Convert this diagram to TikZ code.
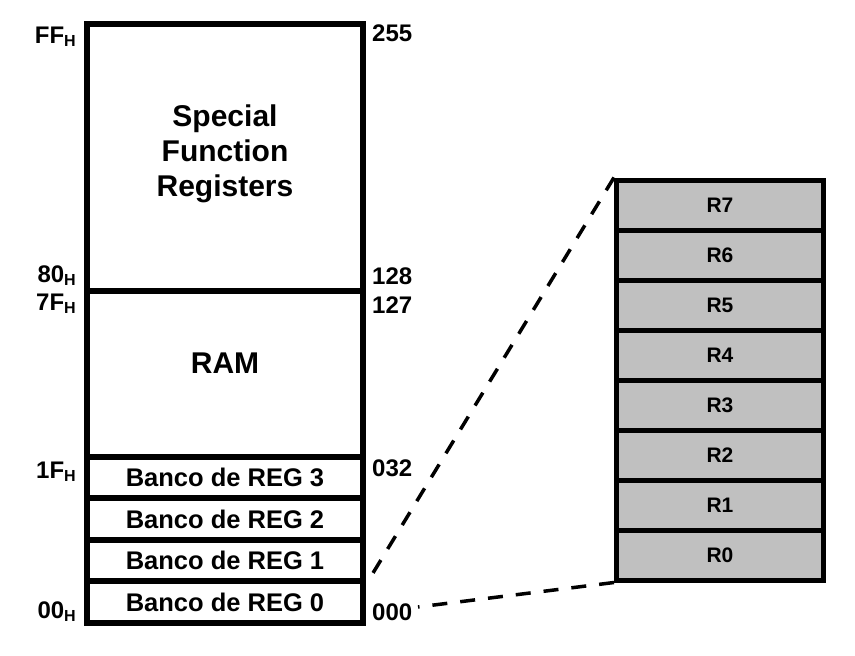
\documentclass[tikz,border=0pt]{standalone}
\usepackage{fontspec}
\setmainfont{Liberation Sans}
\definecolor{regGrey}{HTML}{C0C0C0}
\usetikzlibrary{positioning}
\newcommand{\hexsub}{\raisebox{-3.5pt}{\fontsize{16}{16}\selectfont H}}

\begin{document}
\begin{tikzpicture}[x=1pt, y=-1pt,
  region/.style={draw, line width=6pt, minimum width=276pt, inner sep=0pt,
    font=\fontsize{25.5}{28}\selectfont\bfseries},
  bigtext/.style={align=center, inner sep=0pt,
    font=\fontsize{30}{35}\selectfont\bfseries},
  reg/.style={draw, fill=regGrey, line width=5pt, minimum width=207pt,
    minimum height=50pt, inner sep=0pt, font=\fontsize{21}{22}\selectfont\bfseries},
  addr/.style={inner sep=0pt, font=\fontsize{24}{26}\selectfont\bfseries},
  zoomline/.style={line width=3.5pt, dash pattern=on 15pt off 13pt}
]
  \useasboundingbox (0,0) rectangle (855,656);

  % memory map
  \node[region, minimum height=267.5pt] (sfr) at (225,157.25) {};
  \node[bigtext] (sfrtext) at (225,154) {Special\\Function\\Registers};
  \node[region, minimum height=165.5pt] (ram) at (225,373.75) {};
  \node[bigtext] (ramtext) at (225,363) {RAM};
  \node[region, minimum height=41.6pt] (bank3) at (225,477.3) {Banco de REG 3};
  \node[region, minimum height=41.6pt] (bank2) at (225,518.9) {Banco de REG 2};
  \node[region, minimum height=41.6pt] (bank1) at (225,560.5) {Banco de REG 1};
  \node[region, minimum height=41.6pt] (bank0) at (225,602.1) {Banco de REG 0};

  % hex addresses
  \node[addr, anchor=base east] (hexff) at (76,43) {FF\hexsub};
  \node[addr, anchor=base east] (hex80) at (76,282) {80\hexsub};
  \node[addr, anchor=base east] (hex7f) at (76,310) {7F\hexsub};
  \node[addr, anchor=base east] (hex1f) at (76,478) {1F\hexsub};
  \node[addr, anchor=base east] (hex00) at (76,618) {00\hexsub};

  % decimal addresses
  \node[addr, anchor=base west] (dec255) at (372,41) {255};
  \node[addr, anchor=base west] (dec128) at (372,284) {128};
  \node[addr, anchor=base west] (dec127) at (372,313) {127};
  \node[addr, anchor=base west] (dec032) at (372,476) {032};
  \node[addr, anchor=base west] (dec000) at (372,620) {000};

  % register bank R0..R7
  \foreach \i in {0,...,7}
    \node[reg] (r\i) at (720,555-50*\i) {R\i};

  \coordinate (bankTop) at (373,573);
  \coordinate (bankBot) at (418,607);
  \draw[zoomline] (r7.north west) -- (bankTop);
  \draw[zoomline] (r0.south west) -- (bankBot);
\end{tikzpicture}
\end{document}
